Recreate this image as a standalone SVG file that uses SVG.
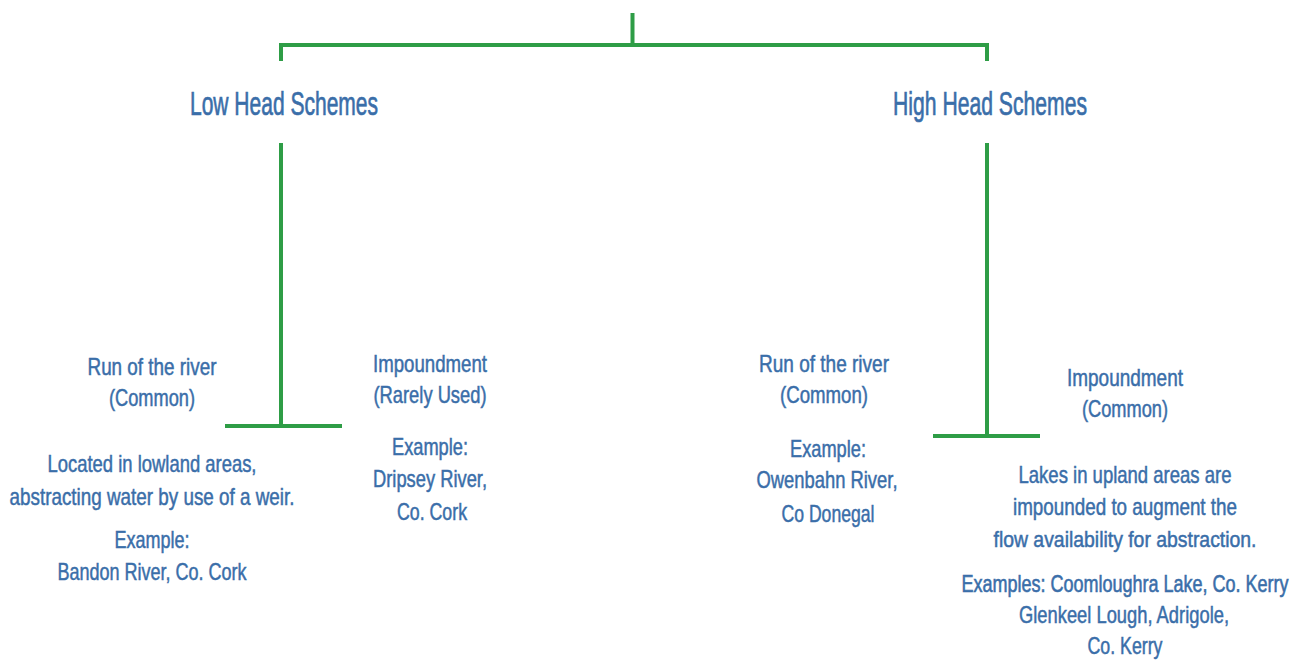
<svg xmlns="http://www.w3.org/2000/svg" width="1303" height="664" viewBox="0 0 1303 664">
<style>
.c{fill:none;stroke:#2e9d46;stroke-width:4}
text{font-family:"Liberation Sans Narrow","Liberation Sans",Arial,sans-serif;fill:#3a6ea9;stroke:#3a6ea9;stroke-width:0.5;text-anchor:middle}
.h{font-size:34px;stroke-width:0.7}
.b{font-size:24px}
.s{font-size:22px}
.t{font-size:24px;stroke-width:0.6}
</style>
<rect width="1303" height="664" fill="#fff"/>
<g id="connectors">
<path class="c" d="M632.5 13V45M281 61V45H987V61"/>
<path class="c" d="M281 143V426M225 426H342"/>
<path class="c" d="M987 143V436M933 436H1040"/>
</g>
<g id="low-head">
<text class="h" x="284" y="115" textLength="188" lengthAdjust="spacingAndGlyphs">Low Head Schemes</text>
</g>
<g id="high-head">
<text class="h" x="990" y="115" textLength="194" lengthAdjust="spacingAndGlyphs">High Head Schemes</text>
</g>
<g id="low-run">
<text class="b" x="152" y="375" textLength="129" lengthAdjust="spacingAndGlyphs">Run of the river</text>
<text class="b" x="152" y="406" textLength="86" lengthAdjust="spacingAndGlyphs">(Common)</text>
<text class="b" x="152" y="472" textLength="209" lengthAdjust="spacingAndGlyphs">Located in lowland areas,</text>
<text class="b" x="152" y="505" textLength="285" lengthAdjust="spacingAndGlyphs">abstracting water by use of a weir.</text>
<text class="b" x="152" y="548" textLength="75" lengthAdjust="spacingAndGlyphs">Example:</text>
<text class="b" x="152" y="580" textLength="189" lengthAdjust="spacingAndGlyphs">Bandon River, Co. Cork</text>
</g>
<g id="low-impoundment">
<text class="b" x="430" y="372" textLength="114" lengthAdjust="spacingAndGlyphs">Impoundment</text>
<text class="b" x="430" y="403" textLength="113" lengthAdjust="spacingAndGlyphs">(Rarely Used)</text>
<text class="b" x="430" y="455" textLength="76" lengthAdjust="spacingAndGlyphs">Example:</text>
<text class="b" x="430" y="487" textLength="114" lengthAdjust="spacingAndGlyphs">Dripsey River,</text>
<text class="b" x="432" y="520" textLength="70" lengthAdjust="spacingAndGlyphs">Co. Cork</text>
</g>
<g id="high-run">
<text class="b" x="824" y="372" textLength="130" lengthAdjust="spacingAndGlyphs">Run of the river</text>
<text class="b" x="824" y="403" textLength="88" lengthAdjust="spacingAndGlyphs">(Common)</text>
<text class="b" x="828" y="457" textLength="76" lengthAdjust="spacingAndGlyphs">Example:</text>
<text class="b" x="827" y="488" textLength="141" lengthAdjust="spacingAndGlyphs">Owenbahn River,</text>
<text class="b" x="828" y="522" textLength="93" lengthAdjust="spacingAndGlyphs">Co Donegal</text>
</g>
<g id="high-impoundment">
<text class="b" x="1125" y="386" textLength="116" lengthAdjust="spacingAndGlyphs">Impoundment</text>
<text class="b" x="1125" y="417" textLength="86" lengthAdjust="spacingAndGlyphs">(Common)</text>
<text class="b" x="1125" y="483" textLength="213" lengthAdjust="spacingAndGlyphs">Lakes in upland areas are</text>
<text class="b" x="1125" y="515" textLength="224" lengthAdjust="spacingAndGlyphs">impounded to augment the</text>
<text class="s" x="1125" y="547" textLength="263" lengthAdjust="spacingAndGlyphs">flow availability for abstraction.</text>
<text class="t" transform="translate(1125 592) scale(0.75 1)" x="0" y="0" textLength="436" lengthAdjust="spacingAndGlyphs">Examples: Coomloughra Lake, Co. Kerry</text>
<text class="b" x="1124" y="623" textLength="210" lengthAdjust="spacingAndGlyphs">Glenkeel Lough, Adrigole,</text>
<text class="b" x="1125" y="654" textLength="75" lengthAdjust="spacingAndGlyphs">Co. Kerry</text>
</g>
</svg>
